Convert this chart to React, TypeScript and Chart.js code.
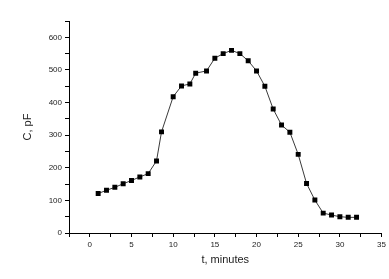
import React, { useEffect, useRef } from "react";
import { Chart, registerables } from "chart.js";

Chart.register(...registerables);

const timeMinutes = [1, 2, 3, 4, 5, 6, 7, 8, 8.6, 10, 11, 12, 12.7, 14, 15, 16, 17, 18, 19, 20, 21, 22, 23, 24, 25, 26, 27, 28, 29, 30, 31, 32];
const capacitancePF = [121, 131, 140, 151, 161, 172, 182, 221, 310, 418, 451, 457, 490, 497, 536, 550, 560, 550, 528, 497, 450, 380, 331, 309, 241, 152, 101, 61, 55, 50, 48, 48];
const xTitle = "t, minutes";
const yTitle = "C, pF";

const FONT = "'Liberation Sans', Arial, sans-serif";

export default function App() {
  const ref = useRef<HTMLCanvasElement>(null);
  useEffect(() => {
    if (!ref.current) return;
    const data = timeMinutes.map((x, i) => ({ x, y: capacitancePF[i] }));
    const chart = new Chart(ref.current, {
      type: "scatter",
      data: {
        datasets: [
          {
            data,
            showLine: true,
            borderColor: "#3a3a3a",
            borderWidth: 1,
            tension: 0,
            pointStyle: "rect",
            pointRadius: 3.5,
            pointBackgroundColor: "#000",
            pointBorderColor: "#000",
            pointBorderWidth: 0,
          },
        ],
      },
      options: {
        responsive: false,
        animation: false,
        layout: { padding: { left: 0, right: 5, top: 21, bottom: 0 } },
        plugins: { legend: { display: false }, tooltip: { enabled: false } },
        scales: {
          x: {
            type: "linear",
            min: -2.5,
            max: 35,
            afterFit: (s: any) => {
              s.height = 46;
            },
            border: { display: true, color: "#000", width: 1 },
            grid: { drawOnChartArea: false, tickLength: 4, color: "#000", tickColor: "#000" },
            ticks: {
              stepSize: 2.5,
              autoSkip: false,
              maxRotation: 0,
              padding: 3,
              color: "#222",
              font: { family: FONT, size: 8 },
              callback: (v: any) => (Number(v) % 5 === 0 ? String(v) : ""),
            },
            title: {
              display: true,
              text: xTitle,
              color: "#222",
              font: { family: FONT, size: 11 },
              padding: { top: 0, bottom: 12 },
            },
          },
          y: {
            type: "linear",
            min: 0,
            max: 650,
            afterFit: (s: any) => {
              s.width = 69;
            },
            border: { display: true, color: "#000", width: 1 },
            grid: { drawOnChartArea: false, tickLength: 4, color: "#000", tickColor: "#000" },
            ticks: {
              stepSize: 50,
              autoSkip: false,
              padding: 3,
              color: "#222",
              font: { family: FONT, size: 8 },
              callback: (v: any) => (Number(v) % 100 === 0 ? String(v) : ""),
            },
            title: {
              display: true,
              text: yTitle,
              color: "#222",
              font: { family: FONT, size: 11 },
              padding: { top: 21, bottom: 0 },
            },
          },
        },
      },
    });
    return () => chart.destroy();
  }, []);
  return (
    <div style={{ position: "fixed", left: 0, top: 0, width: 389, height: 279, background: "#fff" }}>
      <canvas ref={ref} width={389} height={279} />
    </div>
  );
}
